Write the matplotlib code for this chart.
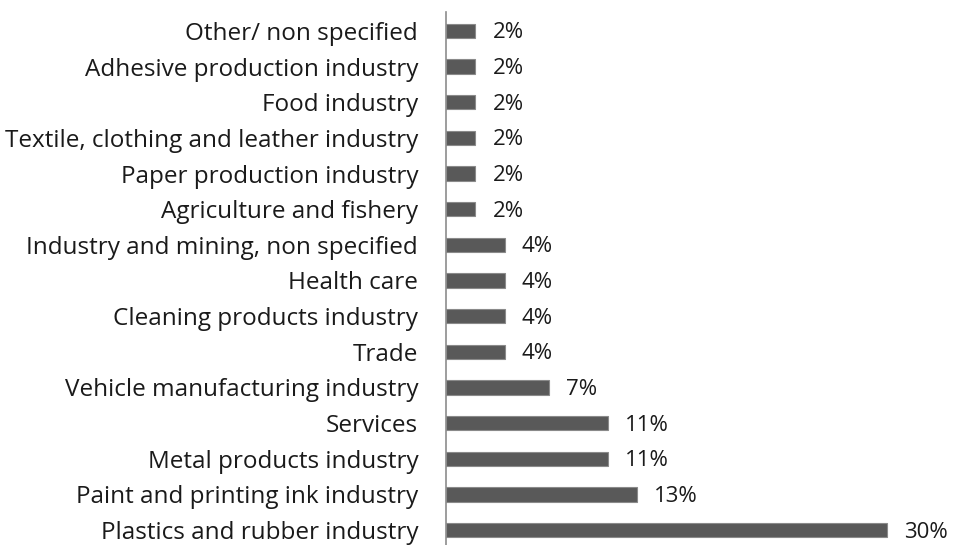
import matplotlib
matplotlib.use("Agg")
import matplotlib.pyplot as plt
import numpy as np

plt.rcParams['font.family'] = ['Open Sans', 'DejaVu Sans']

# sectors, bottom to top
sectors = [
    "Plastics and rubber industry",
    "Paint and printing ink industry",
    "Metal products industry",
    "Services",
    "Vehicle manufacturing industry",
    "Trade",
    "Cleaning products industry",
    "Health care",
    "Industry and mining, non specified",
    "Agriculture and fishery",
    "Paper production industry",
    "Textile, clothing and leather industry",
    "Food industry",
    "Adhesive production industry",
    "Other/ non specified",
]
shares = [30, 13, 11, 11, 7, 4, 4, 4, 4, 2, 2, 2, 2, 2, 2]

W, H = 956, 545
fig = plt.figure(figsize=(W / 100, H / 100), dpi=100)
ax = fig.add_axes([446 / W, 0, 1 - 446 / W, (H - 12) / H])

y = np.arange(len(sectors))
ax.barh(y, shares, height=0.4, color='#595959', edgecolor='#8a8a8a', linewidth=0.8)

for yi, v in zip(y, shares):
    ax.annotate(f"{v}%", (v, yi), xytext=(17, -2), textcoords='offset pixels',
                va='center', ha='left', fontsize=16, color='#1a1a1a')

ax.set_yticks(y)
ax.set_yticklabels(sectors, fontsize=17.5, color='#1a1a1a')
ax.tick_params(axis='y', length=0, pad=20)
ax.set_xticks([])
ax.set_xlim(0, 30 * 510 / 441)
ax.set_ylim(-0.42, 14.53)

for side in ['top', 'right', 'bottom']:
    ax.spines[side].set_visible(False)
ax.spines['left'].set_color('#8c8c8c')
ax.spines['left'].set_linewidth(1.2)

fig.savefig("out.png", dpi=100)
